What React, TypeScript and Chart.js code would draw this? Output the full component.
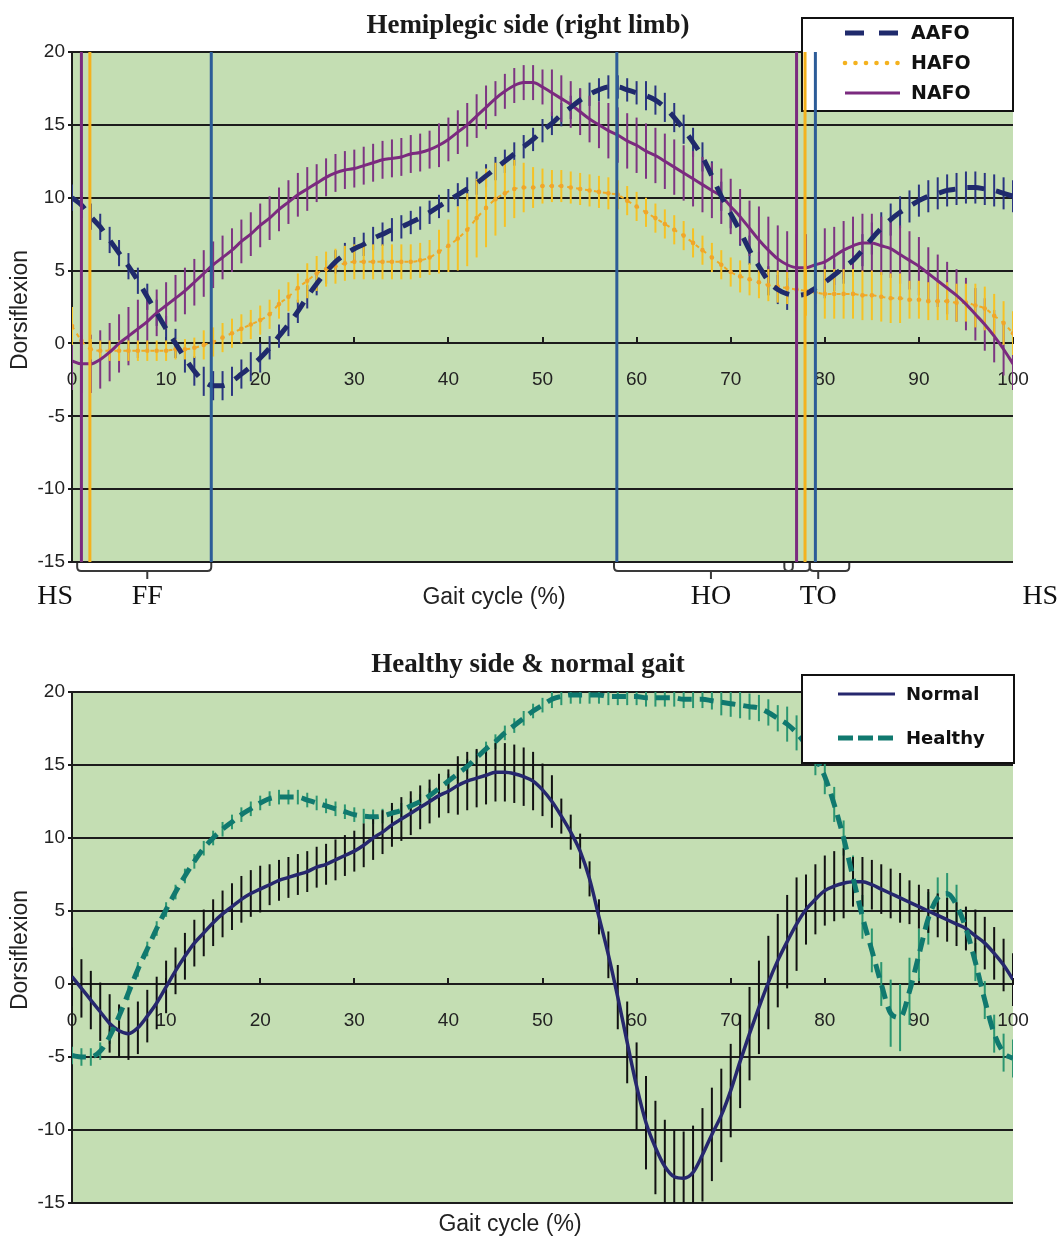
import React, { useEffect, useRef } from "react";
import { Chart, registerables } from "chart.js";

Chart.register(...registerables);
Chart.defaults.font.family = "'Liberation Sans', Arial, sans-serif";

// ---------------- data ----------------
const GAIT = [
  0, 1, 2, 3, 4, 5, 6, 7, 8, 9, 10, 11, 12, 13, 14, 15, 16, 17, 18, 19, 20,
  21, 22, 23, 24, 25, 26, 27, 28, 29, 30, 31, 32, 33, 34, 35, 36, 37, 38, 39, 40,
  41, 42, 43, 44, 45, 46, 47, 48, 49, 50, 51, 52, 53, 54, 55, 56, 57, 58, 59, 60,
  61, 62, 63, 64, 65, 66, 67, 68, 69, 70, 71, 72, 73, 74, 75, 76, 77, 78, 79, 80,
  81, 82, 83, 84, 85, 86, 87, 88, 89, 90, 91, 92, 93, 94, 95, 96, 97, 98, 99, 100,
];

const TOP_SERIES = ["AAFO", "HAFO", "NAFO"];
const BOTTOM_SERIES = ["Normal", "Healthy"];

const AAFO = [
  10.0, 9.5, 8.7, 8.0, 7.1, 6.2, 5.3, 4.3, 3.2, 2.1, 1.0, 0.0, -1.0, -1.9, -2.6, -2.9, -2.9, -2.6, -2.1, -1.6, -1.0,
  -0.3, 0.5, 1.3, 2.2, 3.2, 4.1, 4.9, 5.6, 6.1, 6.5, 6.8, 7.2, 7.5, 7.8, 8.0, 8.3, 8.6, 9.0, 9.4, 9.8,
  10.2, 10.6, 11.0, 11.5, 12.0, 12.5, 13.0, 13.5, 14.0, 14.6, 15.1, 15.7, 16.2, 16.7, 17.1, 17.4, 17.6, 17.6, 17.4, 17.2,
  17.0, 16.7, 16.2, 15.5, 14.7, 13.8, 12.8, 11.5, 10.1, 8.9, 7.7, 6.4, 5.3, 4.3, 3.7, 3.4, 3.3, 3.4, 3.8, 4.2,
  4.7, 5.2, 5.7, 6.4, 7.2, 7.9, 8.5, 9.0, 9.4, 9.8, 10.1, 10.3, 10.5, 10.6, 10.7, 10.7, 10.6, 10.5, 10.3, 10.1,
];
const AAFO_SD = [
  0.9, 0.9, 0.9, 0.9, 0.9, 0.9, 0.9, 0.9, 0.9, 0.9, 0.9, 1.0, 1.0, 1.0, 1.0, 1.0, 1.0, 1.0, 1.0, 1.0, 1.0,
  0.8, 0.8, 0.8, 0.8, 0.8, 0.8, 0.8, 0.8, 0.8, 0.8, 0.8, 0.8, 0.8, 0.8, 0.8, 0.8, 0.8, 0.8, 0.8, 0.8,
  0.8, 0.8, 0.8, 0.8, 0.8, 0.8, 0.8, 0.8, 0.8, 0.8, 0.8, 0.8, 0.8, 0.8, 0.8, 0.8, 0.8, 0.8, 0.8, 0.8,
  1.0, 1.0, 1.0, 1.0, 1.0, 1.0, 1.0, 1.0, 1.0, 1.0, 1.0, 1.0, 1.0, 1.0, 1.0, 1.1, 1.1, 1.1, 1.1, 1.1,
  1.1, 1.1, 1.1, 1.1, 1.1, 1.1, 1.1, 1.1, 1.1, 1.1, 1.1, 1.1, 1.1, 1.1, 1.1, 1.1, 1.1, 1.1, 1.1, 1.1,
];

const HAFO = [
  1.2, 0.2, -0.4, -0.5, -0.5, -0.5, -0.5, -0.5, -0.5, -0.5, -0.5, -0.4, -0.4, -0.3, -0.1, 0.1, 0.4, 0.7, 1.0, 1.3, 1.6,
  2.0, 2.7, 3.2, 3.8, 4.3, 4.8, 5.1, 5.3, 5.5, 5.6, 5.6, 5.6, 5.6, 5.6, 5.6, 5.6, 5.7, 5.9, 6.3, 6.7,
  7.2, 7.8, 8.6, 9.3, 9.9, 10.3, 10.6, 10.7, 10.7, 10.8, 10.8, 10.8, 10.7, 10.6, 10.5, 10.4, 10.3, 10.2, 9.8, 9.4,
  9.0, 8.6, 8.2, 7.8, 7.4, 6.9, 6.4, 5.9, 5.4, 4.9, 4.6, 4.4, 4.2, 4.0, 3.9, 3.8, 3.7, 3.6, 3.5, 3.4,
  3.4, 3.4, 3.4, 3.3, 3.3, 3.2, 3.1, 3.1, 3.0, 3.0, 2.9, 2.9, 2.9, 2.8, 2.8, 2.6, 2.4, 1.9, 1.4, 0.7,
];
const HAFO_SD = [
  1.3, 0.7, 0.7, 0.7, 0.7, 0.7, 0.7, 0.7, 0.7, 0.7, 0.7, 0.7, 0.7, 0.7, 1.0, 1.0, 1.0, 1.0, 1.0, 1.0, 1.0,
  1.0, 1.0, 1.0, 1.0, 1.2, 1.2, 1.2, 1.2, 1.2, 1.2, 1.2, 1.2, 1.2, 1.2, 1.2, 1.2, 1.2, 1.2, 1.5, 1.8,
  2.2, 2.5, 2.7, 2.7, 2.5, 2.3, 2.0, 1.7, 1.4, 1.2, 1.1, 1.1, 1.1, 1.1, 1.1, 1.1, 1.1, 1.0, 1.0, 1.0,
  1.0, 1.0, 1.0, 1.0, 1.0, 1.0, 1.0, 1.0, 1.0, 1.0, 1.1, 1.1, 1.1, 1.1, 1.1, 1.1, 1.1, 1.7, 1.7, 1.7,
  1.7, 1.7, 1.7, 1.7, 1.7, 1.7, 1.7, 1.7, 1.3, 1.3, 1.3, 1.3, 1.3, 1.3, 1.3, 1.5, 1.5, 1.5, 1.5, 1.5,
];

const NAFO = [
  -1.2, -1.4, -1.4, -1.1, -0.6, 0.0, 0.5, 1.0, 1.5, 2.1, 2.6, 3.1, 3.6, 4.2, 4.8, 5.4, 5.9, 6.4, 7.0, 7.5, 8.1,
  8.6, 9.2, 9.7, 10.2, 10.6, 11.0, 11.4, 11.7, 11.9, 12.0, 12.2, 12.4, 12.6, 12.7, 12.8, 13.0, 13.1, 13.3, 13.6, 14.0,
  14.5, 15.0, 15.6, 16.2, 16.8, 17.3, 17.7, 17.9, 17.9, 17.6, 17.2, 16.8, 16.4, 15.9, 15.4, 15.0, 14.6, 14.3, 13.9, 13.6,
  13.2, 12.9, 12.5, 12.1, 11.7, 11.3, 10.9, 10.5, 10.1, 9.4, 8.7, 7.9, 7.1, 6.4, 5.8, 5.4, 5.2, 5.2, 5.4, 5.6,
  6.0, 6.4, 6.7, 6.9, 6.9, 6.7, 6.5, 6.1, 5.7, 5.3, 4.8, 4.3, 3.8, 3.3, 2.7, 2.0, 1.3, 0.5, -0.4, -1.4,
];
const NAFO_SD = [
  2.0, 2.0, 2.0, 2.0, 2.0, 2.0, 2.0, 2.0, 2.0, 1.6, 1.6, 1.6, 1.6, 1.6, 1.6, 1.6, 1.5, 1.5, 1.5, 1.5, 1.5,
  1.5, 1.5, 1.5, 1.5, 1.5, 1.3, 1.3, 1.3, 1.3, 1.3, 1.3, 1.3, 1.3, 1.3, 1.3, 1.3, 1.3, 1.3, 1.5, 1.5,
  1.5, 1.5, 1.5, 1.5, 1.2, 1.2, 1.2, 1.2, 1.2, 1.2, 1.6, 1.6, 1.6, 1.6, 1.6, 1.6, 1.9, 1.9, 1.9, 1.9,
  1.9, 1.9, 1.9, 1.9, 1.9, 1.9, 1.9, 1.9, 1.9, 1.9, 1.9, 1.9, 2.3, 2.3, 2.3, 2.3, 2.3, 2.3, 2.3, 2.3,
  2.0, 2.0, 2.0, 2.0, 2.0, 2.0, 2.0, 2.0, 2.0, 2.0, 1.8, 1.8, 1.8, 1.8, 1.8, 1.8, 1.8, 1.8, 1.8, 1.8,
];

const NORMAL = [
  0.5, -0.3, -1.1, -1.9, -2.7, -3.2, -3.4, -3.0, -2.2, -1.3, -0.2, 0.9, 1.9, 2.8, 3.5, 4.2, 4.8, 5.3, 5.8, 6.2, 6.5,
  6.8, 7.1, 7.3, 7.5, 7.7, 8.0, 8.2, 8.5, 8.8, 9.1, 9.5, 10.0, 10.4, 10.9, 11.3, 11.7, 12.1, 12.5, 12.9, 13.2,
  13.6, 13.9, 14.1, 14.3, 14.5, 14.5, 14.4, 14.2, 13.9, 13.3, 12.5, 11.5, 10.4, 9.1, 7.2, 4.6, 2.0, -0.9, -4.0, -7.0,
  -9.5, -11.2, -12.5, -13.2, -13.3, -12.9, -11.7, -10.3, -9.0, -7.3, -5.3, -3.4, -1.6, 0.1, 1.6, 2.9, 4.1, 5.1, 5.8, 6.4,
  6.7, 6.9, 7.0, 7.0, 6.8, 6.5, 6.2, 5.9, 5.6, 5.3, 5.0, 4.7, 4.4, 4.1, 3.8, 3.3, 2.8, 2.1, 1.3, 0.3,
];
const NORMAL_SD = [
  2.0, 2.0, 2.0, 2.0, 2.0, 1.8, 1.8, 1.8, 1.8, 1.8, 1.8, 1.6, 1.6, 1.6, 1.6, 1.6, 1.6, 1.6, 1.6, 1.6, 1.6,
  1.4, 1.4, 1.4, 1.4, 1.4, 1.4, 1.4, 1.4, 1.4, 1.4, 1.5, 1.5, 1.5, 1.5, 1.5, 1.5, 1.5, 1.5, 1.5, 1.5,
  2.0, 2.0, 2.0, 2.0, 2.0, 2.0, 2.0, 2.0, 2.0, 1.8, 1.8, 1.2, 1.2, 1.2, 1.2, 1.2, 1.6, 2.2, 2.8, 3.0,
  3.2, 3.2, 3.2, 3.2, 3.2, 3.2, 3.2, 3.2, 3.2, 3.2, 3.2, 3.2, 3.2, 3.2, 3.2, 3.2, 3.2, 2.4, 2.4, 2.4,
  2.4, 2.4, 1.7, 1.7, 1.7, 1.7, 1.7, 1.7, 1.5, 1.5, 1.5, 1.5, 1.5, 1.5, 1.5, 1.8, 1.8, 1.8, 1.8, 1.8,
];

const HEALTHY = [
  -4.9, -5.0, -5.0, -4.6, -3.6, -2.2, -0.6, 1.0, 2.4, 3.8, 5.1, 6.3, 7.4, 8.4, 9.3, 10.0, 10.6, 11.1, 11.6, 12.0, 12.4,
  12.7, 12.8, 12.8, 12.8, 12.6, 12.4, 12.2, 12.0, 11.8, 11.6, 11.5, 11.45, 11.5, 11.7, 11.9, 12.2, 12.5, 12.9, 13.4, 13.9,
  14.4, 14.9, 15.5, 16.1, 16.6, 17.2, 17.7, 18.2, 18.7, 19.1, 19.5, 19.7, 19.8, 19.8, 19.8, 19.8, 19.7, 19.7, 19.7, 19.7,
  19.6, 19.6, 19.6, 19.6, 19.5, 19.5, 19.5, 19.4, 19.3, 19.2, 19.1, 19.0, 18.9, 18.6, 18.2, 17.8, 17.2, 16.4, 15.5, 14.2,
  12.3, 10.0, 7.3, 4.6, 2.3, 0.0, -2.0, -2.3, -0.5, 2.0, 4.5, 5.9, 6.2, 5.4, 3.8, 1.5, -1.1, -3.4, -4.7, -5.1,
];
const HEALTHY_SD = [
  0.6, 0.6, 0.6, 0.6, 0.5, 0.5, 0.5, 0.5, 0.5, 0.5, 0.5, 0.5, 0.5, 0.5, 0.5, 0.5, 0.5, 0.5, 0.5, 0.5, 0.5,
  0.5, 0.5, 0.5, 0.5, 0.5, 0.5, 0.5, 0.5, 0.5, 0.5, 0.5, 0.5, 0.5, 0.5, 0.5, 0.5, 0.5, 0.5, 0.5, 0.5,
  0.5, 0.5, 0.5, 0.5, 0.5, 0.5, 0.5, 0.5, 0.5, 0.5, 0.6, 0.6, 0.6, 0.6, 0.6, 0.6, 0.6, 0.6, 0.6, 0.6,
  0.6, 0.6, 0.6, 0.6, 0.6, 0.6, 0.6, 0.6, 0.9, 0.9, 0.9, 0.9, 0.9, 0.9, 0.9, 1.2, 1.2, 1.2, 1.2, 1.2,
  1.2, 1.2, 1.5, 1.5, 1.5, 1.5, 2.3, 2.3, 2.3, 1.8, 1.8, 1.4, 1.4, 1.4, 1.4, 1.3, 1.3, 1.3, 1.3, 1.3,
];

// gait-event lines (% of cycle) and the orthosis each belongs to
const EVENT_X = [1.0, 1.9, 14.8, 57.9, 77.0, 77.9, 79.0];
const EVENT_SOURCE = ["NAFO", "HAFO", "AAFO", "AAFO", "NAFO", "HAFO", "AAFO"];

// phase brackets under the top chart
const BRACKET_FROM = [0.55, 57.6, 75.7, 78.4];
const BRACKET_TO = [14.8, 76.6, 78.4, 82.6];
const PHASE_TEXT = ["HS", "FF", "HO", "TO", "HS"];
const PHASE_AT = [-1.8, 8.0, 67.9, 79.3, 102.9];
const PHASE_TICK = [false, true, true, true, false];

// ---------------- styles ----------------
const GREEN = "#c4deb3";
const GRID = "#1c1c1c";
const PURPLE = "#7b2a7f";
const ORANGE = "#f4b21e";
const BLUE = "#2c5c98";
const NAVY = "#1f2a6c";
const NORMAL_C = "#26276e";
const TEAL = "#10796f";

const colorOfSource = (s: string) => (s === "NAFO" ? PURPLE : s === "HAFO" ? ORANGE : BLUE);

const xy = (vals: number[]) => GAIT.map((g, i) => ({ x: g, y: vals[i] }));

type LegendEntry = {
  label: string;
  color: string;
  kind: "dash" | "dot" | "solid";
  dash?: number[];
  width: number;
  y: number;
};

type Decor = {
  title: string;
  titleY: number;
  yTitleY: number;
  xTitleX: number;
  xTitleY: number;
  legendBox: { x: number; y: number; w: number; h: number };
  legendX1: number;
  legendX2: number;
  legendTextX: number;
  legendFont: string;
  legend: LegendEntry[];
  legendUnder: boolean;
  brackets: boolean;
};

function drawLegend(ctx: CanvasRenderingContext2D, d: Decor) {
  const b = d.legendBox;
  ctx.save();
  ctx.fillStyle = "#ffffff";
  ctx.fillRect(b.x, b.y, b.w, b.h);
  ctx.strokeStyle = "#111";
  ctx.lineWidth = 2;
  ctx.strokeRect(b.x, b.y, b.w, b.h);
  for (const e of d.legend) {
    if (e.kind === "dot") {
      ctx.fillStyle = e.color;
      for (let x = d.legendX1; x <= d.legendX2; x += 10.5) {
        ctx.beginPath();
        ctx.arc(x, e.y, 2.3, 0, Math.PI * 2);
        ctx.fill();
      }
    } else {
      ctx.strokeStyle = e.color;
      ctx.lineWidth = e.width;
      ctx.setLineDash(e.dash || []);
      ctx.beginPath();
      ctx.moveTo(d.legendX1, e.y);
      ctx.lineTo(d.legendX2, e.y);
      ctx.stroke();
      ctx.setLineDash([]);
    }
    ctx.fillStyle = "#111";
    ctx.font = d.legendFont;
    ctx.textAlign = "left";
    ctx.textBaseline = "middle";
    ctx.fillText(e.label, d.legendTextX, e.y + 1);
  }
  ctx.restore();
}

function makeDecorPlugin(d: Decor) {
  return {
    id: "decor",
    beforeDraw(chart: any) {
      const { ctx, chartArea } = chart;
      ctx.save();
      ctx.fillStyle = GREEN;
      ctx.fillRect(chartArea.left, chartArea.top, chartArea.right - chartArea.left, chartArea.bottom - chartArea.top);
      ctx.restore();
    },
    beforeDatasetsDraw(chart: any) {
      const { ctx, chartArea, scales } = chart;
      ctx.save();
      ctx.beginPath();
      ctx.rect(chartArea.left, chartArea.top, chartArea.right - chartArea.left, chartArea.bottom - chartArea.top);
      ctx.clip();
      chart.data.datasets.forEach((ds: any) => {
        if (!ds.sd) return;
        ctx.strokeStyle = ds.errColor;
        ctx.lineWidth = ds.errWidth;
        ds.data.forEach((p: any, j: number) => {
          const x = scales.x.getPixelForValue(p.x);
          ctx.beginPath();
          ctx.moveTo(x, scales.y.getPixelForValue(p.y - ds.sd[j]));
          ctx.lineTo(x, scales.y.getPixelForValue(p.y + ds.sd[j]));
          ctx.stroke();
        });
      });
      ctx.restore();
      if (d.legendUnder) drawLegend(ctx, d);
    },
    afterDatasetsDraw(chart: any) {
      if (!d.legendUnder) drawLegend(chart.ctx, d);
    },
    afterDraw(chart: any) {
      const { ctx, chartArea, scales } = chart;
      ctx.save();
      ctx.fillStyle = "#1a1a1a";
      ctx.textAlign = "center";
      ctx.textBaseline = "middle";
      ctx.font = "bold 27px 'Liberation Serif', 'Times New Roman', serif";
      ctx.fillText(d.title, 528, d.titleY);
      ctx.font = "23px 'Liberation Sans', Arial, sans-serif";
      ctx.fillStyle = "#222";
      ctx.fillText("Gait cycle (%)", d.xTitleX, d.xTitleY);
      ctx.save();
      ctx.translate(21, d.yTitleY);
      ctx.rotate(-Math.PI / 2);
      ctx.fillText("Dorsiflexion", 0, 0);
      ctx.restore();

      if (d.brackets) {
        const yTop = chartArea.bottom + 1;
        const yBar = chartArea.bottom + 9;
        ctx.strokeStyle = "#3a3a3a";
        ctx.lineWidth = 2;
        const r = 4;
        BRACKET_FROM.forEach((from, i) => {
          const x1 = scales.x.getPixelForValue(from);
          const x2 = scales.x.getPixelForValue(BRACKET_TO[i]);
          ctx.beginPath();
          ctx.moveTo(x1, yTop);
          ctx.lineTo(x1, yBar - r);
          ctx.quadraticCurveTo(x1, yBar, x1 + r, yBar);
          ctx.lineTo(x2 - r, yBar);
          ctx.quadraticCurveTo(x2, yBar, x2, yBar - r);
          ctx.lineTo(x2, yTop);
          ctx.stroke();
        });
        ctx.fillStyle = "#111";
        ctx.font = "28px 'Liberation Serif', 'Times New Roman', serif";
        PHASE_TEXT.forEach((t, i) => {
          const x = scales.x.getPixelForValue(PHASE_AT[i]);
          if (PHASE_TICK[i]) {
            ctx.beginPath();
            ctx.moveTo(x, yBar);
            ctx.lineTo(x, yBar + 8);
            ctx.stroke();
          }
          ctx.fillText(t, x, chartArea.bottom + 35);
        });
      }
      ctx.restore();
    },
  };
}

function baseOptions(padding: any) {
  return {
    responsive: false,
    animation: false as const,
    events: [] as any[],
    layout: { padding },
    plugins: {
      legend: { display: false },
      title: { display: false },
      tooltip: { enabled: false },
    },
    scales: {
      x: {
        type: "linear" as const,
        min: 0,
        max: 100,
        position: { y: 0 },
        ticks: {
          stepSize: 10,
          color: "#222",
          font: { size: 19, family: "'Liberation Sans', Arial, sans-serif" },
          padding: 32,
          maxRotation: 0,
          autoSkip: false,
        },
        grid: { drawOnChartArea: false, drawTicks: true, tickLength: -7, color: GRID, lineWidth: 2 },
        border: { display: true, color: GRID, width: 2 },
      },
      y: {
        type: "linear" as const,
        min: -15,
        max: 20,
        ticks: {
          stepSize: 5,
          color: "#222",
          font: { size: 19, family: "'Liberation Sans', Arial, sans-serif" },
          padding: 3,
        },
        grid: { color: GRID, lineWidth: 2, drawTicks: true, tickLength: 4 },
        border: { display: true, color: GRID, width: 2 },
        afterFit: (s: any) => {
          s.width = 72;
        },
      },
    },
  };
}

function topConfig(): any {
  const events = EVENT_X.map((x, i) => ({
    label: "event",
    data: [
      { x, y: -15 },
      { x, y: 20 },
    ],
    borderColor: colorOfSource(EVENT_SOURCE[i]),
    borderWidth: 3,
    pointRadius: 0,
    order: 0,
  }));
  const decor: Decor = {
    title: "Hemiplegic side (right limb)",
    titleY: 26,
    yTitleY: 310,
    xTitleX: 494,
    xTitleY: 598,
    legendBox: { x: 802, y: 18, w: 211, h: 93 },
    legendX1: 845,
    legendX2: 900,
    legendTextX: 911,
    legendFont: "bold 19px 'DejaVu Sans', sans-serif",
    legendUnder: true,
    brackets: true,
    legend: [
      { label: TOP_SERIES[0], color: NAVY, kind: "dash", dash: [19, 15], width: 5, y: 33 },
      { label: TOP_SERIES[1], color: ORANGE, kind: "dot", width: 2, y: 63 },
      { label: TOP_SERIES[2], color: PURPLE, kind: "solid", width: 3, y: 93 },
    ],
  };
  return {
    type: "line",
    data: {
      datasets: [
        ...events,
        {
          label: TOP_SERIES[0],
          data: xy(AAFO),
          sd: AAFO_SD,
          errColor: "#2a3580",
          errWidth: 2,
          borderColor: NAVY,
          borderWidth: 5,
          borderDash: [17, 12],
          pointRadius: 0,
          cubicInterpolationMode: "monotone",
          order: 1,
        },
        {
          label: TOP_SERIES[2],
          data: xy(NAFO),
          sd: NAFO_SD,
          errColor: "#7d3582",
          errWidth: 2,
          borderColor: PURPLE,
          borderWidth: 3,
          pointRadius: 0,
          cubicInterpolationMode: "monotone",
          order: 2,
        },
        {
          label: TOP_SERIES[1],
          data: xy(HAFO),
          sd: HAFO_SD,
          errColor: "#f6c224",
          errWidth: 2,
          borderColor: "#f0aa22",
          borderWidth: 2,
          borderDash: [4, 5],
          pointRadius: 2.3,
          pointBorderWidth: 0,
          pointBackgroundColor: "#f0a62a",
          cubicInterpolationMode: "monotone",
          order: 3,
        },
      ],
    },
    options: baseOptions({ left: 0, top: 52, right: 51, bottom: 58 }),
    plugins: [makeDecorPlugin(decor)],
  };
}

function bottomConfig(): any {
  const decor: Decor = {
    title: "Healthy side & normal gait",
    titleY: 45,
    yTitleY: 330,
    xTitleX: 510,
    xTitleY: 605,
    legendBox: { x: 802, y: 55, w: 212, h: 88 },
    legendX1: 838,
    legendX2: 895,
    legendTextX: 906,
    legendFont: "bold 18px 'DejaVu Sans', sans-serif",
    legendUnder: false,
    brackets: false,
    legend: [
      { label: BOTTOM_SERIES[0], color: NORMAL_C, kind: "solid", width: 3, y: 74 },
      { label: BOTTOM_SERIES[1], color: TEAL, kind: "dash", dash: [15, 5], width: 5, y: 118 },
    ],
  };
  return {
    type: "line",
    data: {
      datasets: [
        {
          label: BOTTOM_SERIES[1],
          data: xy(HEALTHY),
          sd: HEALTHY_SD,
          errColor: "#2b9670",
          errWidth: 2,
          borderColor: TEAL,
          borderWidth: 5,
          borderDash: [14, 8],
          pointRadius: 0,
          cubicInterpolationMode: "monotone",
          order: 1,
        },
        {
          label: BOTTOM_SERIES[0],
          data: xy(NORMAL),
          sd: NORMAL_SD,
          errColor: "#111111",
          errWidth: 2,
          borderColor: NORMAL_C,
          borderWidth: 3.5,
          pointRadius: 0,
          cubicInterpolationMode: "monotone",
          order: 2,
        },
      ],
    },
    options: baseOptions({ left: 0, top: 72, right: 51, bottom: 35 }),
    plugins: [makeDecorPlugin(decor)],
  };
}

export default function App() {
  const topRef = useRef<HTMLCanvasElement>(null);
  const botRef = useRef<HTMLCanvasElement>(null);

  useEffect(() => {
    const c1 = new Chart(topRef.current as HTMLCanvasElement, topConfig());
    const c2 = new Chart(botRef.current as HTMLCanvasElement, bottomConfig());
    return () => {
      c1.destroy();
      c2.destroy();
    };
  }, []);

  return (
    <div style={{ position: "absolute", left: 0, top: 0, width: 1064, height: 1238, background: "#ffffff" }}>
      <canvas
        ref={topRef}
        width={1064}
        height={620}
        style={{ position: "absolute", left: 0, top: 0, width: 1064, height: 620 }}
      />
      <canvas
        ref={botRef}
        width={1064}
        height={618}
        style={{ position: "absolute", left: 0, top: 620, width: 1064, height: 618 }}
      />
    </div>
  );
}
